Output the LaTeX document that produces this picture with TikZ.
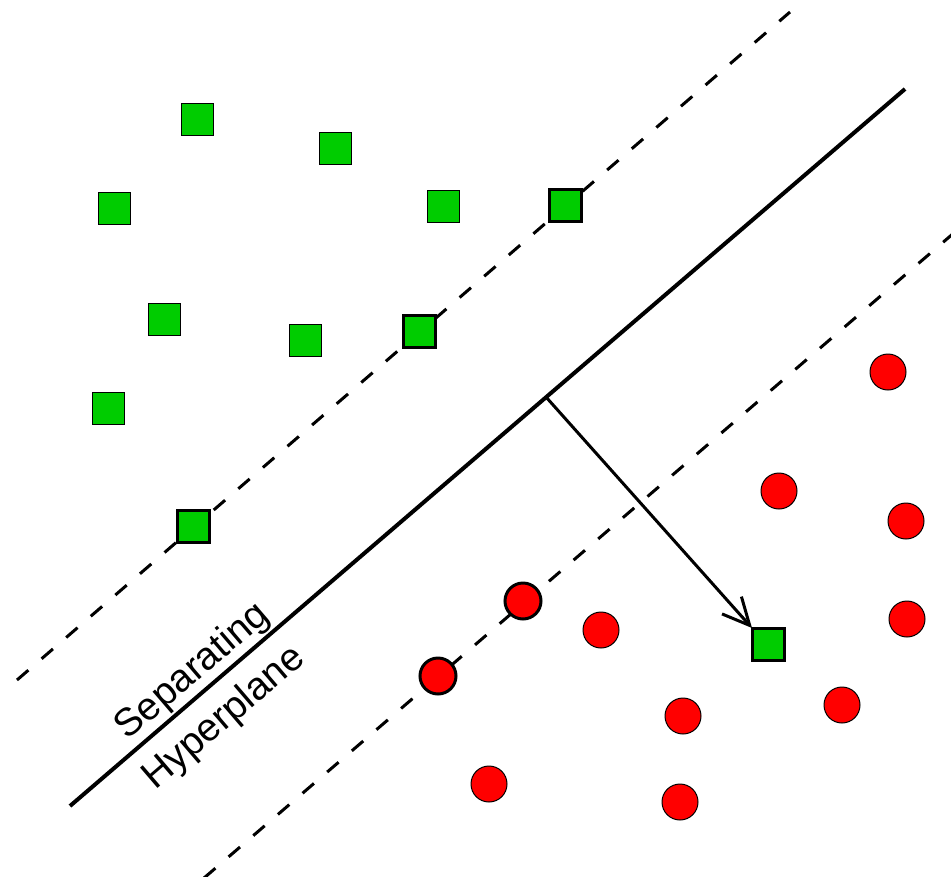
\documentclass[tikz,border=0pt]{standalone}
\usepackage{fontspec}
\setmainfont{Liberation Sans}
\usetikzlibrary{arrows.meta}
\definecolor{ptgreen}{RGB}{0,204,0}
\definecolor{ptred}{RGB}{255,0,0}
\tikzset{
  sq/.style={draw=black, line width=1pt, fill=ptgreen, minimum size=32pt, inner sep=0pt, outer sep=0pt},
  svsq/.style={sq, line width=3pt},
  dot/.style={circle, draw=black, line width=1pt, fill=ptred, minimum size=36pt, inner sep=0pt, outer sep=0pt},
  svdot/.style={dot, line width=3pt},
  hyper/.style={line width=4pt},
  margin/.style={line width=3pt, dash pattern=on 15pt off 17.5pt},
  normal/.style={line width=3pt, -{Straight Barb[length=27pt, width=26pt]}},
  lbl/.style={font=\fontsize{39}{45}\selectfont, rotate=40.65, anchor=base, inner sep=0pt}
}
\begin{document}
\begin{tikzpicture}[x=1pt, y=-1pt]
\useasboundingbox (0,0) rectangle (951,876);
\clip (0,0) rectangle (951,876);

% separating hyperplane and the two margins
\coordinate (h1) at (70,806);
\coordinate (h2) at (905,89);
\coordinate (m1a) at (17,680);
\coordinate (m1b) at (790,12);
\coordinate (m2a) at (204,878);
\coordinate (m2b) at (955,232);
\draw[margin] (m1a) -- (m1b);
\draw[margin] (m2a) -- (m2b);
\draw[hyper] (h1) -- (h2);

% class 1: squares
\node[sq] (s1) at (197,119) {};
\node[sq] (s2) at (335,148) {};
\node[sq] (s3) at (114,208) {};
\node[sq] (s4) at (443,206) {};
\node[sq] (s5) at (164,319) {};
\node[sq] (s6) at (305,340) {};
\node[sq] (s7) at (108,408) {};
\node[svsq] (v1) at (565,205) {};
\node[svsq] (v2) at (419,331) {};
\node[svsq] (v3) at (193,526) {};

% class 2: circles
\node[dot] (c1) at (888,372) {};
\node[dot] (c2) at (779,491) {};
\node[dot] (c3) at (906,521) {};
\node[dot] (c4) at (601,630) {};
\node[dot] (c5) at (907,619) {};
\node[dot] (c6) at (842,705) {};
\node[dot] (c7) at (683,716) {};
\node[dot] (c8) at (489,784) {};
\node[dot] (c9) at (680,802) {};
\node[svdot] (w1) at (523,601) {};
\node[svdot] (w2) at (438,676) {};

% misplaced point and its distance to the hyperplane
\node[svsq] (x) at (768,644) {};
\coordinate (foot) at (546,397);
\draw[normal] (foot) -- (x.north west);

% label
\node[lbl] (t1) at (199.5,679.5) {Separating};
\node[lbl] (t2) at (231,726) {Hyperplane};
\end{tikzpicture}
\end{document}
